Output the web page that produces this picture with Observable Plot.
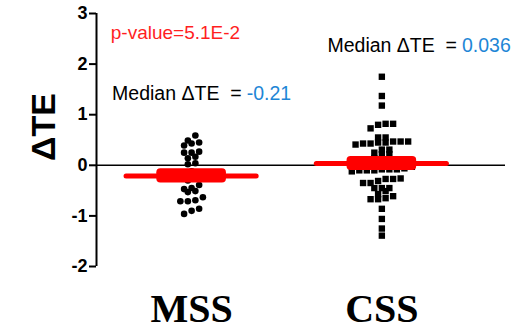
<!DOCTYPE html>
<html>
<head>
<meta charset="utf-8">
<script src="https://cdn.jsdelivr.net/npm/d3@7"></script>
<script src="https://cdn.jsdelivr.net/npm/@observablehq/plot@0.6"></script>
<style>
  html, body { margin: 0; padding: 0; background: white; }
</style>
</head>
<body>
<div id="chart"></div>
<script>
// ---- data ----
const groups = ["MSS", "CSS"];
const mssValues = [0.59, 0.49, 0.45, 0.43, 0.39, 0.27, 0.25, 0.25, 0.17, 0.14, 0.04, 0.02,
  -0.12, -0.16, -0.19, -0.21, -0.21, -0.26, -0.30,
  -0.39, -0.45, -0.47, -0.51, -0.53, -0.63, -0.69, -0.71, -0.71, -0.86, -0.90, -0.96];
const cssValues = [1.75, 1.37, 1.18, 0.82, 0.82, 0.80, 0.73, 0.55, 0.55,
  0.47, 0.47, 0.47, 0.45, 0.45, 0.43, 0.43, 0.41, 0.31, 0.31, 0.25, 0.22, 0.22, 0.14,
  0.10, 0.08, 0.08, 0.07, 0.05, 0.036, 0.036, 0.036, 0.0, -0.03, -0.06,
  -0.08, -0.08, -0.08, -0.10, -0.10, -0.10, -0.12, -0.26, -0.27, -0.27, -0.31, -0.35, -0.35,
  -0.45, -0.45, -0.45, -0.51, -0.57, -0.61, -0.65, -0.67, -0.67, -0.86, -1.06, -1.25, -1.39];
const medians = [-0.21, 0.036];
const yTicks = [-2, -1, 0, 1, 2, 3];
const pValueLabel = "p-value=5.1E-2";
const yLabel = "\u0394TE";
const medianPrefix = "Median \u0394TE\u00a0 =";

// ---- layout (scatter dot plot: points of similar value placed side by side) ----
const BIN = 0.12;        // value band grouped into one row
const SPACING = 0.0395;  // horizontal gap between neighbours (x units)
function layout(values, g) {
  const rows = d3.group(values, v => Math.floor(v / BIN + 1e-9));
  const out = [];
  for (const [, row] of rows) {
    const r = row.slice().sort((a, b) => a - b);
    const n = r.length;
    r.forEach((v, i) => out.push({group: groups[g - 1], g, v, x: g + (i - (n - 1) / 2) * SPACING}));
  }
  return out;
}
const mssPts = layout(mssValues, 1);
const cssPts = layout(cssValues, 2);
const medianRows = medians.map((m, i) => ({g: i + 1, m, label: String(m)}));

const RED = "#ff0000";
const BLUE = "#1e86d6";

const chart = Plot.plot({
  width: 524,
  height: 333,
  marginLeft: 96,
  marginRight: 19,
  marginTop: 13,
  marginBottom: 67,
  x: {domain: [0.5, 2.65], axis: null},
  y: {domain: [-2, 3], axis: null},
  style: {fontFamily: "Arial, 'Liberation Sans', sans-serif", background: "white", color: "black"},
  marks: [
    Plot.ruleY([0], {stroke: "black", strokeWidth: 1.6}),
    Plot.ruleX([0.5], {stroke: "black", strokeWidth: 2}),
    Plot.axisY({ticks: yTicks, tickSize: 7, tickPadding: 2, fontSize: 18, fontWeight: "bold",
                strokeWidth: 2, label: null, tickFormat: d => String(d)}),
    Plot.axisX({ticks: [1, 2], tickFormat: d => groups[d - 1], tickSize: 0, tickPadding: 27,
                fontSize: 40, fontWeight: "bold", fontFamily: "'Liberation Serif', 'Times New Roman', serif",
                label: null}),
    Plot.text([yLabel], {frameAnchor: "left", textAnchor: "middle", lineAnchor: "middle",
                         dx: -52, dy: -13, rotate: -90, fontSize: 34, fontWeight: "bold"}),
    Plot.dot(mssPts, {x: "x", y: "v", r: 3.3, fill: "black", stroke: null}),
    Plot.dot(cssPts, {x: "x", y: "v", symbol: "square", r: 3.6, fill: "black", stroke: null}),
    Plot.ruleY(medianRows, {x1: d => d.g - 0.342, x2: d => d.g + 0.342, y: "m", stroke: RED, strokeWidth: 5, strokeLinecap: "round"}),
    Plot.rect(medianRows, {x1: d => d.g - 0.183, x2: d => d.g + 0.183, y1: d => d.m - 0.14, y2: d => d.m + 0.14, fill: RED, rx: 4}),
    Plot.text([pValueLabel], {x: 0.575, y: 2.61, textAnchor: "start", fill: "#ff1f1f", fontSize: 19}),
    Plot.text([medianPrefix], {x: 1.263, y: 1.42, textAnchor: "end", fill: "black", fontSize: 19.5}),
    Plot.text([medianRows[0].label], {x: 1.263, y: 1.42, dx: 5, textAnchor: "start", fill: BLUE, fontSize: 19.5}),
    Plot.text([medianPrefix], {x: 2.395, y: 2.37, textAnchor: "end", fill: "black", fontSize: 19.5}),
    Plot.text([medianRows[1].label], {x: 2.395, y: 2.37, dx: 5, textAnchor: "start", fill: BLUE, fontSize: 19.5})
  ]
});
document.getElementById("chart").appendChild(chart);
</script>
</body>
</html>
